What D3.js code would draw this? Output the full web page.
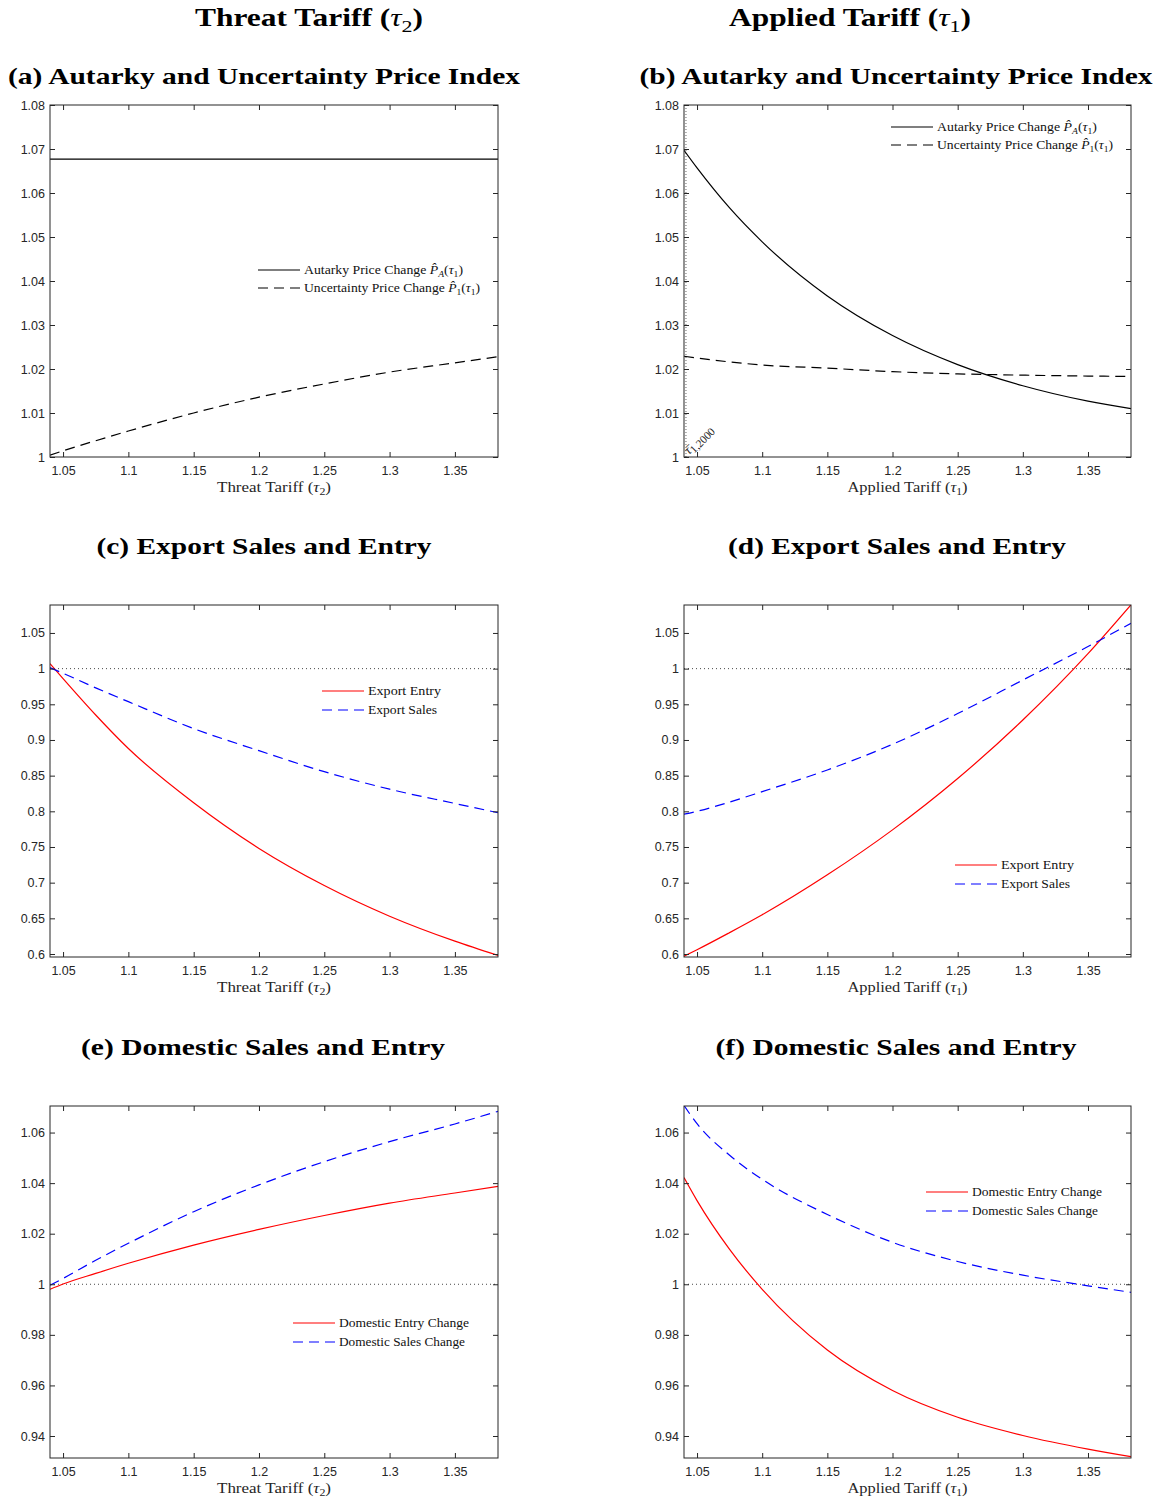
<!DOCTYPE html>
<html>
<head>
<meta charset="utf-8">
<script src="https://cdn.jsdelivr.net/npm/d3@7"></script>
<style>
  body { margin: 0; background: #fff; }
</style>
</head>
<body>
<script>
// tariff grid shared by all series
const tau = [1.04, 1.05, 1.075, 1.1, 1.15, 1.2, 1.25, 1.3, 1.35, 1.383];

// (a) / (b) price indices
const autarkyThreat  = [1.0677, 1.0677, 1.0677, 1.0677, 1.0677, 1.0677, 1.0677, 1.0677, 1.0677, 1.0677];
const uncertThreat   = [1.0004, 1.0014, 1.0037, 1.0059, 1.0100, 1.0136, 1.0166, 1.0193, 1.0214, 1.0228];
const autarkyApplied = [1.0697, 1.0657, 1.0566, 1.0489, 1.0366, 1.0276, 1.0210, 1.0162, 1.0127, 1.0110];
const uncertApplied  = [1.0229, 1.0225, 1.0216, 1.0209, 1.0202, 1.0194, 1.0189, 1.0186, 1.0184, 1.0183];

// (c) / (d) export margins
const exportEntryThreat  = [1.007, 0.986, 0.935, 0.888, 0.812, 0.748, 0.696, 0.653, 0.618, 0.598];
const exportSalesThreat  = [1.0014, 0.9935, 0.973, 0.9537, 0.916, 0.885, 0.8556, 0.831, 0.811, 0.798];
const exportEntryApplied = [0.597, 0.606, 0.630, 0.655, 0.711, 0.774, 0.846, 0.928, 1.021, 1.0895];
const exportSalesApplied = [0.796, 0.800, 0.813, 0.8276, 0.858, 0.894, 0.937, 0.984, 1.031, 1.0636];

// (e) / (f) domestic margins
const domEntryThreat  = [0.998, 1.0001, 1.0043, 1.0083, 1.0155, 1.0217, 1.0272, 1.0321, 1.0361, 1.0387];
const domSalesThreat  = [0.9996, 1.0023, 1.0095, 1.0162, 1.0287, 1.0393, 1.0485, 1.0564, 1.0634, 1.0684];
const domEntryApplied = [1.0422, 1.0331, 1.0138, 0.998, 0.974, 0.958, 0.9474, 0.9402, 0.9348, 0.9318];
const domSalesApplied = [1.0707, 1.0635, 1.0510, 1.0415, 1.0276, 1.0166, 1.0090, 1.0036, 0.9994, 0.9968];

const tauBar2000 = 1.0415;

// axes
const xDomain = [1.04, 1.383];
const xTicks = [1.05, 1.1, 1.15, 1.2, 1.25, 1.3, 1.35];
const priceDomain = [1, 1.08];
const priceTicks = [1, 1.01, 1.02, 1.03, 1.04, 1.05, 1.06, 1.07, 1.08];
const exportDomain = [0.5958, 1.0892];
const exportTicks = [0.6, 0.65, 0.7, 0.75, 0.8, 0.85, 0.9, 0.95, 1, 1.05];
const domDomain = [0.9313, 1.0705];
const domTicks = [0.94, 0.96, 0.98, 1, 1.02, 1.04, 1.06];

// text
const colTitles = [
  [["Threat Tariff ("], ["\u03C4", "i"], ["2", "sub"], [")"]],
  [["Applied Tariff ("], ["\u03C4", "i"], ["1", "sub"], [")"]]
];
const xLabels = [
  [["Threat Tariff ("], ["\u03C4", "i"], ["2", "sub"], [")"]],
  [["Applied Tariff ("], ["\u03C4", "i"], ["1", "sub"], [")"]]
];
const priceLegend = [
  [["Autarky Price Change "], ["P\u0302", "i"], ["A", "isub"], ["("], ["\u03C4", "i"], ["1", "sub"], [")"]],
  [["Uncertainty Price Change "], ["P\u0302", "i"], ["1", "sub"], ["("], ["\u03C4", "i"], ["1", "sub"], [")"]]
];
const exportLegend = [[["Export Entry"]], [["Export Sales"]]];
const domLegend = [[["Domestic Entry Change"]], [["Domestic Sales Change"]]];
const tauBarLabel = [["\u03C4\u0304", "i"], ["1,2000", "sub"]];

const W = 1161, H = 1501;
const cols = [{ x0: 50, x1: 498 }, { x0: 684, x1: 1131 }];
const rows = [{ y0: 105, y1: 457 }, { y0: 605, y1: 957 }, { y0: 1106, y1: 1458 }];
const serif = "'Liberation Serif', 'Times New Roman', serif";
const sans = "'Liberation Sans', Arial, sans-serif";
const axisColor = "#262626";
const dash = "10,6";

const panels = [
  { col: 0, row: 0, title: "(a) Autarky and Uncertainty Price Index", titleW: 512, titleX: 264, titleY: 84,
    yDomain: priceDomain, yTicks: priceTicks, oneLine: false,
    series: [{ y: autarkyThreat, color: "#000", dash: null }, { y: uncertThreat, color: "#000", dash: dash }],
    legend: { x: 258, y: 270, gap: 18, items: priceLegend, widths: [159, 176] } },
  { col: 1, row: 0, title: "(b) Autarky and Uncertainty Price Index", titleW: 513, titleX: 896, titleY: 84,
    yDomain: priceDomain, yTicks: priceTicks, oneLine: false, tauBar: true,
    series: [{ y: autarkyApplied, color: "#000", dash: null }, { y: uncertApplied, color: "#000", dash: dash }],
    legend: { x: 891, y: 127, gap: 18, items: priceLegend, widths: [160, 176] } },
  { col: 0, row: 1, title: "(c) Export Sales and Entry", titleW: 335, titleX: 264, titleY: 554,
    yDomain: exportDomain, yTicks: exportTicks, oneLine: true,
    series: [{ y: exportEntryThreat, color: "#ff0000", dash: null }, { y: exportSalesThreat, color: "#0000ff", dash: dash }],
    legend: { x: 322, y: 691, gap: 19, items: exportLegend, widths: [73, 69] } },
  { col: 1, row: 1, title: "(d) Export Sales and Entry", titleW: 338, titleX: 897, titleY: 554,
    yDomain: exportDomain, yTicks: exportTicks, oneLine: true,
    series: [{ y: exportEntryApplied, color: "#ff0000", dash: null }, { y: exportSalesApplied, color: "#0000ff", dash: dash }],
    legend: { x: 955, y: 865, gap: 19, items: exportLegend, widths: [73, 69] } },
  { col: 0, row: 2, title: "(e) Domestic Sales and Entry", titleW: 364, titleX: 263, titleY: 1055,
    yDomain: domDomain, yTicks: domTicks, oneLine: true,
    series: [{ y: domEntryThreat, color: "#ff0000", dash: null }, { y: domSalesThreat, color: "#0000ff", dash: dash }],
    legend: { x: 293, y: 1323, gap: 19, items: domLegend, widths: [130, 126] } },
  { col: 1, row: 2, title: "(f) Domestic Sales and Entry", titleW: 361, titleX: 896, titleY: 1055,
    yDomain: domDomain, yTicks: domTicks, oneLine: true,
    series: [{ y: domEntryApplied, color: "#ff0000", dash: null }, { y: domSalesApplied, color: "#0000ff", dash: dash }],
    legend: { x: 926, y: 1192, gap: 19, items: domLegend, widths: [130, 126] } }
];

const svg = d3.select("body").append("svg")
  .attr("width", W)
  .attr("height", H)
  .style("font-family", serif);

svg.append("rect").attr("width", W).attr("height", H).attr("fill", "#fff");

// write text made of plain / italic / subscript pieces
function richText(sel, parts, size, boldBase, subScale = 0.7) {
  let down = false;
  parts.forEach(([t, kind]) => {
    kind = kind || "";
    const isSub = kind.includes("sub");
    const isItal = kind.startsWith("i");
    const ts = sel.append("tspan").text(t);
    if (isItal) ts.style("font-style", "italic");
    if (boldBase && (isItal || isSub)) ts.style("font-weight", "normal");
    if (isSub) {
      ts.attr("font-size", size * subScale);
      if (!down) { ts.attr("dy", size * 0.22); down = true; }
    } else if (down) {
      ts.attr("dy", -size * 0.22);
      down = false;
    }
  });
}

// column headings
colTitles.forEach((parts, i) => {
  const t = svg.append("text")
    .attr("x", i === 0 ? 309 : 850)
    .attr("y", 26)
    .attr("text-anchor", "middle")
    .attr("font-size", 25)
    .attr("font-weight", "bold")
    .attr("textLength", i === 0 ? 228 : 242)
    .attr("lengthAdjust", "spacingAndGlyphs");
  richText(t, parts, 25, true);
});

panels.forEach((p, pi) => {
  const c = cols[p.col], r = rows[p.row];
  const x = d3.scaleLinear().domain(xDomain).range([c.x0, c.x1]);
  const y = d3.scaleLinear().domain(p.yDomain).range([r.y1, r.y0]);

  // panel title
  svg.append("text")
    .attr("x", p.titleX)
    .attr("y", p.titleY)
    .attr("text-anchor", "middle")
    .attr("font-size", 23)
    .attr("font-weight", "bold")
    .attr("textLength", p.titleW)
    .attr("lengthAdjust", "spacingAndGlyphs")
    .text(p.title);

  const g = svg.append("g");
  const clipId = "clip" + pi;
  g.append("clipPath").attr("id", clipId)
    .append("rect")
    .attr("x", c.x0).attr("y", r.y0)
    .attr("width", c.x1 - c.x0).attr("height", r.y1 - r.y0);

  const plot = g.append("g").attr("clip-path", `url(#${clipId})`);

  if (p.oneLine) {
    plot.append("line")
      .attr("x1", c.x0).attr("x2", c.x1)
      .attr("y1", y(1)).attr("y2", y(1))
      .attr("stroke", "#333")
      .attr("stroke-width", 0.9)
      .attr("stroke-dasharray", "1,3");
  }

  if (p.tauBar) {
    plot.append("line")
      .attr("x1", x(tauBar2000)).attr("x2", x(tauBar2000))
      .attr("y1", r.y0).attr("y2", r.y1)
      .attr("stroke", "#555")
      .attr("stroke-width", 0.9)
      .attr("stroke-dasharray", "1,2");
    const lab = g.append("text")
      .attr("transform", `translate(${x(tauBar2000) + 3},${r.y1 - 2}) rotate(-45)`)
      .attr("font-size", 13)
      .attr("fill", "#222");
    richText(lab, tauBarLabel, 13, false, 0.85);
  }

  const line = d3.line()
    .x((d, i) => x(tau[i]))
    .y(d => y(d))
    .curve(d3.curveMonotoneX);

  p.series.forEach(s => {
    plot.append("path")
      .datum(s.y)
      .attr("fill", "none")
      .attr("stroke", s.color)
      .attr("stroke-width", 1.2)
      .attr("stroke-dasharray", s.dash)
      .attr("d", line);
  });

  // axes with inward ticks on all four sides
  const fmt = d3.format("~g");
  const styleAxis = sel => {
    sel.select(".domain").remove();
    sel.selectAll(".tick line").attr("stroke", axisColor);
    sel.selectAll(".tick text")
      .attr("fill", axisColor)
      .style("font-family", sans)
      .style("font-size", "12.5px");
  };

  g.append("g")
    .attr("transform", `translate(0,${r.y1})`)
    .call(d3.axisBottom(x).tickValues(xTicks).tickFormat(fmt)
      .tickSizeInner(-5).tickSizeOuter(0).tickPadding(9))
    .call(styleAxis);
  g.append("g")
    .attr("transform", `translate(0,${r.y0})`)
    .call(d3.axisTop(x).tickValues(xTicks).tickFormat(() => "")
      .tickSizeInner(-5).tickSizeOuter(0))
    .call(styleAxis);
  g.append("g")
    .attr("transform", `translate(${c.x0},0)`)
    .call(d3.axisLeft(y).tickValues(p.yTicks).tickFormat(fmt)
      .tickSizeInner(-5).tickSizeOuter(0).tickPadding(5))
    .call(styleAxis);
  g.append("g")
    .attr("transform", `translate(${c.x1},0)`)
    .call(d3.axisRight(y).tickValues(p.yTicks).tickFormat(() => "")
      .tickSizeInner(-5).tickSizeOuter(0))
    .call(styleAxis);

  g.append("rect")
    .attr("x", c.x0).attr("y", r.y0)
    .attr("width", c.x1 - c.x0).attr("height", r.y1 - r.y0)
    .attr("fill", "none")
    .attr("stroke", axisColor)
    .attr("stroke-width", 1);

  // x axis label
  const xl = g.append("text")
    .attr("x", (c.x0 + c.x1) / 2)
    .attr("y", r.y1 + 35)
    .attr("text-anchor", "middle")
    .attr("font-size", 15)
    .attr("fill", axisColor)
    .attr("textLength", p.col === 0 ? 114 : 120)
    .attr("lengthAdjust", "spacingAndGlyphs");
  richText(xl, xLabels[p.col], 15, false);

  // legend
  const lg = p.legend;
  lg.items.forEach((parts, i) => {
    const s = p.series[i];
    const ly = lg.y + i * lg.gap;
    g.append("line")
      .attr("x1", lg.x).attr("x2", lg.x + 42)
      .attr("y1", ly).attr("y2", ly)
      .attr("stroke", s.color)
      .attr("stroke-width", 1.2)
      .attr("stroke-dasharray", s.dash);
    const t = g.append("text")
      .attr("x", lg.x + 46)
      .attr("y", ly + 4)
      .attr("font-size", 12)
      .attr("fill", "#111")
      .attr("textLength", lg.widths[i])
      .attr("lengthAdjust", "spacingAndGlyphs");
    richText(t, parts, 12, false);
  });
});
</script>
</body>
</html>
